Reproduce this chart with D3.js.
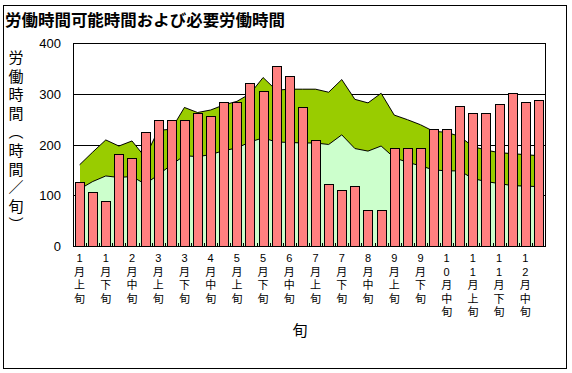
<!DOCTYPE html>
<html>
<head>
<meta charset="utf-8">
<script src="https://cdn.jsdelivr.net/npm/d3@7"></script>
<style>
  body { margin: 0; background: #fff; }
  text { font-family: "Noto Sans CJK JP", "Liberation Sans", sans-serif; fill: #000; }
  .num { font-family: "Liberation Sans", Arial, sans-serif; }
  .stackch { font-family: "Liberation Sans", "Noto Sans CJK JP", sans-serif; }
</style>
</head>
<body>
<svg id="chart"></svg>
<script>
// dekads (旬) of the year
const categories = [
    "1月上旬", "1月中旬", "1月下旬", "2月上旬", "2月中旬", "2月下旬",
    "3月上旬", "3月中旬", "3月下旬", "4月上旬", "4月中旬", "4月下旬",
    "5月上旬", "5月中旬", "5月下旬", "6月上旬", "6月中旬", "6月下旬",
    "7月上旬", "7月中旬", "7月下旬", "8月上旬", "8月中旬", "8月下旬",
    "9月上旬", "9月中旬", "9月下旬", "10月上旬", "10月中旬", "10月下旬",
    "11月上旬", "11月中旬", "11月下旬", "12月上旬", "12月中旬", "12月下旬"
];

// 必要労働時間 (bars)
const needed = [126, 106, 88, 181, 173, 224, 248, 248, 248, 263, 257, 283,
                283, 322, 305, 355, 335, 273, 209, 122, 110, 118, 70, 70,
                194, 194, 194, 230, 230, 275, 263, 263, 279, 301, 284, 287];

// 労働可能時間, stacked areas (lower part, then the part on top of it)
const possibleA = [112, 127, 138, 135, 137, 122, 140, 160, 178, 176, 180, 188,
                   193, 205, 213, 205, 204, 203, 203, 200, 219, 192, 187, 197,
                   174, 165, 158, 150, 148, 148, 133, 127, 123, 119, 118, 117];
const possibleB = [48, 58, 71, 62, 70, 53, 88, 70, 95, 87, 88, 90,
                   92, 95, 119, 102, 105, 106, 106, 103, 109, 97, 95, 104,
                   84, 84, 81, 76, 76, 68, 63, 62, 61, 63, 62, 61];

// every other dekad is labelled
const tickLabels = ["1月上旬", "1月下旬", "2月中旬", "3月上旬", "3月下旬", "4月中旬",
                    "5月上旬", "5月下旬", "6月中旬", "7月上旬", "7月下旬", "8月中旬",
                    "9月上旬", "9月下旬", "10月中旬", "11月上旬", "11月下旬", "12月中旬"];
const yTicks = [0, 100, 200, 300, 400];

const width = 572, height = 373;
const plot = {left: 73, right: 545, top: 43, bottom: 246};

const svg = d3.select("#chart")
    .attr("width", width)
    .attr("height", height);

// outer frame
svg.append("rect")
    .attr("x", 3.5).attr("y", 5.5)
    .attr("width", 563).attr("height", 363)
    .attr("fill", "#fff")
    .attr("stroke", "#000");

svg.append("text")
    .attr("x", 5)
    .attr("y", 26)
    .attr("font-size", "16px")
    .attr("font-weight", "bold")
    .attr("textLength", 280)
    .attr("lengthAdjust", "spacingAndGlyphs")
    .text("労働時間可能時間および必要労働時間");

const x = d3.scaleBand()
    .domain(categories)
    .range([plot.left, plot.right])
    .paddingInner(0.3)
    .paddingOuter(0.15);

const y = d3.scaleLinear()
    .domain([0, 400])
    .range([plot.bottom, plot.top]);

const cx = d => x(d) + x.bandwidth() / 2;

// gridlines
svg.append("g")
    .selectAll("line")
    .data(yTicks.slice(1))
    .join("line")
    .attr("x1", plot.left)
    .attr("x2", plot.right)
    .attr("y1", d => Math.round(y(d)) + 0.5)
    .attr("y2", d => Math.round(y(d)) + 0.5)
    .attr("stroke", "#000");

// stacked areas
const rows = categories.map((c, i) => ({cat: c, a: possibleA[i], b: possibleB[i]}));
const stack = d3.stack().keys(["a", "b"])(rows);
const areaColors = ["#ccffcc", "#99cc00"];

const area = d3.area()
    .x(d => cx(d.data.cat))
    .y0(d => y(d[0]))
    .y1(d => y(d[1]));
const topLine = d3.line()
    .x(d => cx(d.data.cat))
    .y(d => y(d[1]));

stack.forEach((s, k) => {
    svg.append("path")
        .attr("d", area(s))
        .attr("fill", areaColors[k])
        .attr("shape-rendering", "crispEdges");
});
stack.forEach(s => {
    svg.append("path")
        .attr("d", topLine(s))
        .attr("fill", "none")
        .attr("stroke", "#000")
        .attr("stroke-width", 1);
});

// bars
svg.append("g")
    .selectAll("rect")
    .data(needed)
    .join("rect")
    .attr("x", (d, i) => Math.round(x(categories[i])) + 0.5)
    .attr("y", d => Math.round(y(d)) + 0.5)
    .attr("width", Math.round(x.bandwidth()))
    .attr("height", d => Math.round(y(0)) - Math.round(y(d)))
    .attr("fill", "#ff8080")
    .attr("stroke", "#000")
    .attr("shape-rendering", "crispEdges");

// plot frame
svg.append("rect")
    .attr("x", plot.left + 0.5)
    .attr("y", plot.top + 0.5)
    .attr("width", plot.right - plot.left)
    .attr("height", plot.bottom - plot.top)
    .attr("fill", "none")
    .attr("stroke", "#000")
    .attr("shape-rendering", "crispEdges");

// small inner ticks between categories
svg.append("g")
    .selectAll("line")
    .data(categories.slice(1))
    .join("line")
    .attr("x1", d => Math.round(x(d) - x.step() * x.paddingInner() / 2) + 0.5)
    .attr("x2", d => Math.round(x(d) - x.step() * x.paddingInner() / 2) + 0.5)
    .attr("y1", plot.bottom)
    .attr("y2", plot.bottom - 3)
    .attr("stroke", "#000");

// y axis labels
svg.append("g")
    .selectAll("text")
    .data(yTicks)
    .join("text")
    .attr("class", "num")
    .attr("x", 61)
    .attr("y", d => y(d) + 5)
    .attr("text-anchor", "end")
    .attr("font-size", "13px")
    .text(d => d);

// x labels, one character per line
const xChars = tickLabels.flatMap(lab =>
    Array.from(lab).map((ch, j) => ({lab: lab, ch: ch, j: j})));
svg.append("g")
    .selectAll("text")
    .data(xChars)
    .join("text")
    .attr("class", "stackch")
    .attr("x", d => cx(d.lab))
    .attr("y", d => 262 + d.j * 13.5)
    .attr("text-anchor", "middle")
    .attr("font-size", "11px")
    .text(d => d.ch);

// axis titles
const yTitle = ["労", "働", "時", "間", "︵", "時", "間", "／", "旬", "︶"];
svg.append("g")
    .selectAll("text")
    .data(yTitle)
    .join("text")
    .attr("class", "stackch")
    .attr("x", 16)
    .attr("y", (d, i) => 63 + i * 18.6)
    .attr("text-anchor", "middle")
    .attr("font-size", "15px")
    .text(d => d);

svg.append("text")
    .attr("x", 300)
    .attr("y", 336)
    .attr("text-anchor", "middle")
    .attr("font-size", "15px")
    .text("旬");
</script>
</body>
</html>
